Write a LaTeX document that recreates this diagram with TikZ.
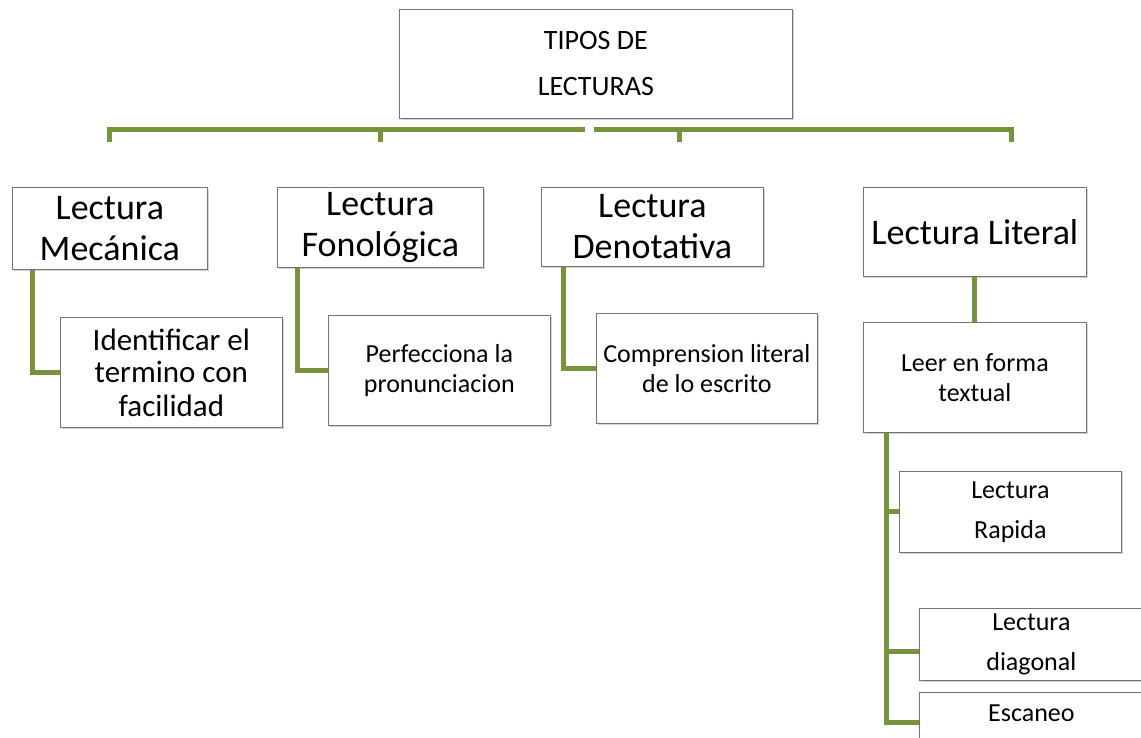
\documentclass[tikz,border=0pt]{standalone}
\usepackage{fontspec}
\setmainfont{Carlito}
\usetikzlibrary{shadows}
\definecolor{ramaverde}{RGB}{119,147,60}

\tikzset{
  caja/.style={rectangle, draw=black!55, line width=0.7pt, fill=white, inner sep=0pt,
    align=center, anchor=north west,
    drop shadow={shadow xshift=1.5pt, shadow yshift=-2pt, opacity=0.35}},
  rama/.style={draw=ramaverde, line width=5pt},
  titulo/.style={font=\fontsize{28}{46}\selectfont},
  grande/.style={font=\fontsize{36}{41}\selectfont},
  media/.style={font=\fontsize{31}{33}\selectfont},
  chica/.style={font=\fontsize{26}{30}\selectfont},
  abierta/.style={font=\fontsize{26}{40}\selectfont}
}

\begin{document}
\begin{tikzpicture}[x=1pt, y=-1pt]
    \useasboundingbox (0,0) rectangle (1141,738);

    % Nodo principal
    \node[caja, titulo, minimum width=393, minimum height=109] (tipos) at (399,9) {TIPOS DE\\LECTURAS};

    % Tipos de lectura
    \node[caja, grande, minimum width=195, minimum height=82] (mecanica) at (12,187) {Lectura\\Mecánica};
    \node[caja, grande, minimum width=206, minimum height=80] (fonologica) at (277,187) {Lectura\\Fonológica};
    \node[caja, grande, minimum width=222, minimum height=79] (denotativa) at (541,187) {Lectura\\Denotativa};
    \node[caja, grande, minimum width=223, minimum height=89] (literal) at (863,187) {Lectura Literal};

    % Descripciones
    \node[caja, media, minimum width=222, minimum height=110] (identificar) at (60,317) {Identificar el\\termino con\\facilidad};
    \node[caja, chica, minimum width=222, minimum height=110] (perfecciona) at (328,315) {Perfecciona la\\pronunciacion};
    \node[caja, chica, minimum width=221, minimum height=110] (comprension) at (596,313) {Comprension literal\\de lo escrito};
    \node[caja, chica, minimum width=223, minimum height=110] (leer) at (863,322) {Leer en forma\\textual};

    % Formas de lectura literal
    \node[caja, abierta, minimum width=222, minimum height=81] (rapida) at (899,471) {Lectura\\Rapida};
    \node[caja, abierta, minimum width=224, minimum height=72] (diagonal) at (919,608) {Lectura\\diagonal};
    \node[caja, chica, minimum width=224, minimum height=60, text height=17pt, text depth=19pt] (escaneo) at (919,692) {Escaneo};

    % Barra horizontal
    \coordinate (barraizq) at (585,129.5);
    \coordinate (barrader) at (594,129.5);
    \foreach \x/\n in {109/t1, 380/t2, 679/t3, 1011/t4} {
        \coordinate (\n) at (\x,142);
    }
    \draw[rama] (t1) |- (barraizq);
    \draw[rama] (t4) |- (barrader);
    \draw[rama] (t2) -- (t2 |- barraizq);
    \draw[rama] (t3) -- (t3 |- barrader);

    % Ramas
    \draw[rama] ([xshift=20pt]mecanica.south west) |- (identificar.west);
    \draw[rama] ([xshift=20pt]fonologica.south west) |- (perfecciona.west);
    \draw[rama] ([xshift=22pt]denotativa.south west) |- (comprension.west);
    \draw[rama] (literal.south) -- (leer.north);
    \draw[rama] ([xshift=23pt]leer.south west) |- (rapida.west);
    \draw[rama] ([xshift=23pt]leer.south west) |- ([yshift=-7pt]diagonal.west);
    \draw[rama] ([xshift=23pt]leer.south west) |- (escaneo.west);
\end{tikzpicture}
\end{document}
